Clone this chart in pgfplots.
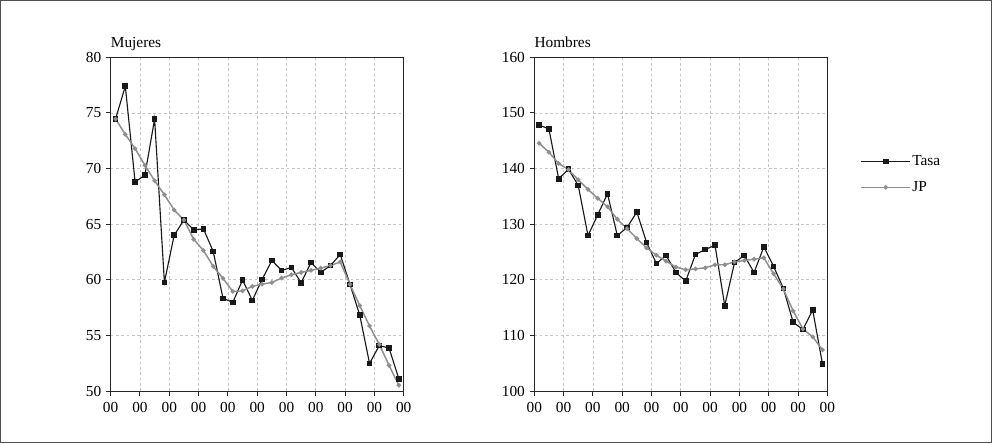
\documentclass[border=0pt]{standalone}
\usepackage{pgfplots}
\pgfplotsset{compat=1.18}
\usepackage{fontspec}
\setmainfont{Liberation Serif}
\definecolor{jpgray}{HTML}{8E8E8E}
\definecolor{gridgray}{HTML}{C4C4C4}
\definecolor{framegray}{HTML}{505050}
\pgfplotsset{
  panel/.style={
    scale only axis,
    width=219.8pt, height=250.3pt,
    xmin=0, xmax=30,
    xtick={0,3,...,30},
    xticklabels={00,00,00,00,00,00,00,00,00,00,00},
    xtick pos=bottom, ytick pos=left,
    tick align=outside,
    major tick length=3.5pt,
    grid=major,
    major grid style={gridgray, dash pattern=on 2pt off 2pt, line width=0.5pt},
    axis line style={black!85, line width=0.75pt},
    tick style={black!85, line width=0.75pt},
    tick label style={font=\fontsize{11.5}{13}\selectfont},
    xticklabel style={yshift=-1.5pt},
    /pgf/number format/assume math mode=true,
    every axis title shift=0pt,
    title style={at={(rel axis cs:0,1)}, anchor=base west, inner sep=0pt, yshift=7.5pt, font=\fontsize{11.5}{13}\selectfont},
    clip=false,
  },
  tasa/.style={black!90, line width=0.85pt, mark=square*, mark size=1.7pt, mark options={solid}},
  jp/.style={jpgray, line width=1.1pt, mark=*, mark size=1.1pt, mark options={solid}},
}
\begin{document}
\begin{tikzpicture}
\useasboundingbox (0,0) rectangle (744pt,332.25pt);
\draw[framegray, line width=0.6pt] (0.4pt,0.4pt) rectangle (743.6pt,331.85pt);
\begin{axis}[panel, at={(83pt,39pt)}, anchor=south west,
  ymin=50, ymax=80, ytick={50,55,...,80}, title={Mujeres}]
\addplot[tasa] coordinates {
(0.5,74.45)(1.5,77.4)(2.5,68.8)(3.5,69.4)(4.5,74.45)(5.5,59.76)(6.5,64.0)(7.5,65.37)(8.5,64.48)(9.5,64.57)
(10.5,62.54)(11.5,58.33)(12.5,57.97)(13.5,59.97)(14.5,58.15)(15.5,60.03)(16.5,61.73)(17.5,60.84)(18.5,61.1)(19.5,59.73)
(20.5,61.55)(21.5,60.66)(22.5,61.28)(23.5,62.27)(24.5,59.58)(25.5,56.81)(26.5,52.48)(27.5,54.09)(28.5,53.85)(29.5,51.1)};
\addplot[jp] coordinates {
(0.5,74.45)(1.5,73.07)(2.5,71.79)(3.5,70.3)(4.5,68.9)(5.5,67.64)(6.5,66.27)(7.5,65.37)(8.5,63.64)(9.5,62.63)
(10.5,61.2)(11.5,60.12)(12.5,58.95)(13.5,59.0)(14.5,59.4)(15.5,59.61)(16.5,59.76)(17.5,60.15)(18.5,60.45)(19.5,60.66)
(20.5,60.84)(21.5,61.04)(22.5,61.28)(23.5,61.6)(24.5,59.58)(25.5,57.67)(26.5,55.85)(27.5,54.18)(28.5,52.3)(29.5,50.51)};
\end{axis}
\begin{axis}[panel, at={(400.7pt,39pt)}, anchor=south west,
  ymin=100, ymax=160, ytick={100,110,...,160}, title={Hombres},
  legend style={draw=none, fill=none, at={(rel axis cs:1.112,0.711)}, anchor=north west,
    font=\fontsize{11.5}{13}\selectfont, row sep=8.5pt, inner sep=0pt,
    nodes={inner sep=1pt}},
  legend cell align=left,
  legend image code/.code={\draw[mark repeat=2, mark phase=2, #1] plot coordinates {(0pt,0pt) (18.4pt,0pt) (36.8pt,0pt)};},
  ]
\addplot[tasa] coordinates {
(0.5,147.82)(1.5,147.1)(2.5,138.15)(3.5,139.88)(4.5,136.96)(5.5,127.94)(6.5,131.7)(7.5,135.46)(8.5,127.94)(9.5,129.4)
(10.5,132.18)(11.5,126.69)(12.5,122.93)(13.5,124.36)(14.5,121.31)(15.5,119.76)(16.5,124.54)(17.5,125.43)(18.5,126.21)(19.5,115.34)
(20.5,123.1)(21.5,124.36)(22.5,121.31)(23.5,125.91)(24.5,122.39)(25.5,118.45)(26.5,112.36)(27.5,111.04)(28.5,114.57)(29.5,104.9)};
\addlegendentry{Tasa}
\addplot[jp] coordinates {
(0.5,144.54)(1.5,142.93)(2.5,140.9)(3.5,139.8)(4.5,137.97)(5.5,136.24)(6.5,134.63)(7.5,133.13)(8.5,130.87)(9.5,129.2)
(10.5,127.4)(11.5,125.73)(12.5,124.42)(13.5,123.34)(14.5,122.27)(15.5,121.8)(16.5,121.95)(17.5,122.15)(18.5,122.69)(19.5,122.7)
(20.5,123.2)(21.5,123.46)(22.5,123.7)(23.5,123.94)(24.5,121.07)(25.5,118.33)(26.5,114.39)(27.5,111.16)(28.5,109.73)(29.5,107.4)};
\addlegendentry{JP}
\end{axis}
\end{tikzpicture}
\end{document}
